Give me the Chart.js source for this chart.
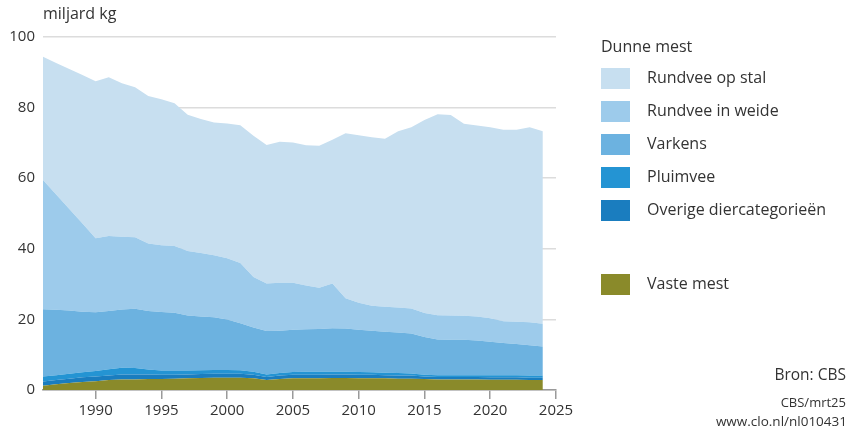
<!DOCTYPE html>
<html><head><meta charset="utf-8">
<script src="https://cdn.jsdelivr.net/npm/chart.js@4/dist/chart.umd.min.js"></script>
<style>
html,body{margin:0;padding:0;background:#fff;}
#wrap{position:relative;width:860px;height:433px;font-family:"Open Sans","Noto Sans",sans-serif;color:#333;}
canvas{position:absolute;left:0;top:0;}
.t{position:absolute;white-space:nowrap;}
.box{position:absolute;width:29px;height:21px;}
</style></head><body>
<div id="wrap">
<canvas id="c" width="860" height="433"></canvas>
<div class="t" style="left:43px;top:2px;font-size:16px;">miljard kg</div>
<div id="legend"></div>
<div class="t" style="right:14px;top:363px;font-size:15.5px;">Bron: CBS</div>
<div class="t" style="right:14px;top:393px;font-size:13px;">CBS/mrt25</div>
<div class="t" style="right:13px;top:412px;font-size:13.5px;">www.clo.nl/nl010431</div>
</div>
<script>
const years = [1986,1987,1988,1989,1990,1991,1992,1993,1994,1995,1996,1997,1998,1999,2000,2001,2002,2003,2004,2005,2006,2007,2008,2009,2010,2011,2012,2013,2014,2015,2016,2017,2018,2019,2020,2021,2022,2023,2024];
const vasteMest = [1.2,1.6,2.0,2.3,2.5,2.8,3.0,3.0,3.1,3.1,3.2,3.3,3.4,3.5,3.5,3.5,3.3,2.8,3.1,3.3,3.3,3.3,3.4,3.4,3.3,3.3,3.3,3.2,3.2,3.1,3.0,3.0,3.0,3.0,2.9,2.9,2.9,2.8,2.8];
const overige = [1.2,1.2,1.2,1.3,1.3,1.3,1.4,1.4,1.3,1.2,1.1,1.1,1.1,1.1,1.1,1.1,1.0,0.9,1.0,1.0,1.0,1.0,1.0,1.0,1.0,1.0,0.9,0.9,0.9,0.7,0.7,0.7,0.7,0.7,0.7,0.7,0.7,0.7,0.7];
const pluimvee = [1.4,1.4,1.4,1.4,1.6,1.8,1.9,1.8,1.4,1.2,1.2,1.1,1.1,1.1,1.1,1.0,0.9,0.7,0.7,0.8,0.9,0.9,0.8,0.8,0.8,0.7,0.7,0.7,0.6,0.5,0.5,0.5,0.5,0.5,0.6,0.6,0.6,0.6,0.6];
const varkens = [19.1,18.5,17.9,17.2,16.6,16.5,16.5,16.8,16.6,16.6,16.4,15.6,15.2,14.9,14.3,13.3,12.5,12.3,12.0,12.0,12.0,12.1,12.3,12.2,12.0,11.8,11.6,11.5,11.3,10.7,10.1,10.0,10.0,9.8,9.5,9.1,8.8,8.6,8.2];
const rundveeWeide = [36.6,32.7,28.8,25.0,21.0,21.2,20.6,20.3,19.1,18.9,18.9,18.3,18.0,17.6,17.3,17.1,14.3,13.5,13.6,13.3,12.4,11.7,12.7,8.6,7.6,7.1,7.1,7.1,7.1,6.8,6.9,6.9,6.8,6.8,6.6,6.2,6.3,6.5,6.5];
const rundveeStal = [34.9,37.2,39.6,42.0,44.5,45.0,43.5,42.5,41.8,41.4,40.4,38.6,38.0,37.6,38.2,39.0,40.0,39.2,39.9,39.7,39.7,40.2,40.7,46.7,47.5,47.7,47.6,49.9,51.3,54.7,56.9,56.8,54.4,54.1,54.1,54.2,54.4,55.2,54.5];
const xTicks = [1990,1995,2000,2005,2010,2015,2020,2025];
const yTicks = [0,20,40,60,80,100];

const series = [
  {label:'Vaste mest', data:vasteMest, color:'#8a8a2a'},
  {label:'Overige diercategorieën', data:overige, color:'#1a7dbf'},
  {label:'Pluimvee', data:pluimvee, color:'#2494d3'},
  {label:'Varkens', data:varkens, color:'#6cb2e0'},
  {label:'Rundvee in weide', data:rundveeWeide, color:'#9dcbeb'},
  {label:'Rundvee op stal', data:rundveeStal, color:'#c7dff0'}
];

const lg = document.getElementById('legend');
const addT = (txt, x, y, size) => { const d=document.createElement('div'); d.className='t'; d.style.left=x+'px'; d.style.top=y+'px'; d.style.fontSize=size+'px'; d.textContent=txt; lg.appendChild(d); };
addT('Dunne mest', 601, 35, 16);
const legendOrder = ['Rundvee op stal','Rundvee in weide','Varkens','Pluimvee','Overige diercategorieën'];
const legendY = [68,101,134,167,200];
legendOrder.forEach((name,i)=>{
  const s = series.find(q=>q.label===name);
  const b=document.createElement('div'); b.className='box'; b.style.left='601px'; b.style.top=legendY[i]+'px'; b.style.background=s.color; lg.appendChild(b);
  addT(name, 647, legendY[i]-2, 16);
});
{
  const s = series[0];
  const b=document.createElement('div'); b.className='box'; b.style.left='601px'; b.style.top='274px'; b.style.background=s.color; lg.appendChild(b);
  addT(s.label, 647, 272, 16);
}

new Chart(document.getElementById('c'), {
  type:'line',
  data:{
    labels: years,
    datasets: series.map((s,i)=>({
      label:s.label,
      data: years.map((y,j)=>({x:y, y:s.data[j]})),
      backgroundColor:s.color,
      borderColor:s.color,
      borderWidth:0,
      pointRadius:0,
      tension:0,
      fill: i===0 ? 'origin' : '-1'
    }))
  },
  options:{
    responsive:false,
    animation:false,
    devicePixelRatio:1,
    layout:{padding:{top:37,right:304,left:0,bottom:0}},
    plugins:{legend:{display:false},tooltip:{enabled:false}},
    scales:{
      x:{
        type:'linear', min:1986, max:2025,
        afterBuildTicks: sc => { sc.ticks = xTicks.map(v=>({value:v})); },
        afterFit: sc => { sc.height = 43; },
        grid:{drawOnChartArea:false, drawTicks:true, tickLength:9, color:'#9a9a9a', lineWidth:1.5},
        border:{display:true, color:'#9a9a9a', width:1.5},
        ticks:{color:'#333', font:{family:'Open Sans', size:15}, padding:3, callback:v=>String(v), maxRotation:0}
      },
      y:{
        stacked:true, min:0, max:100,
        afterBuildTicks: sc => { sc.ticks = yTicks.map(v=>({value:v})); },
        afterFit: sc => { sc.width = 43; },
        grid:{drawTicks:false, color:'#dcdcdc', lineWidth:1.5},
        border:{display:false},
        ticks:{color:'#333', font:{family:'Open Sans', size:15}, padding:8}
      }
    }
  }
});
</script>
</body></html>
